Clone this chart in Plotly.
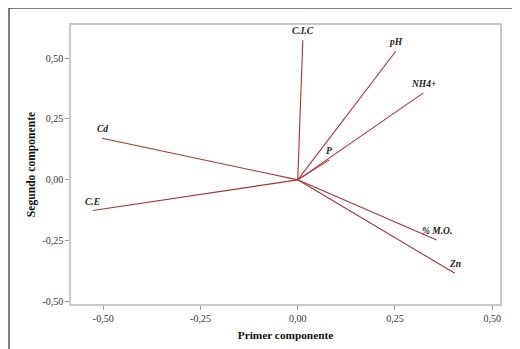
import plotly.graph_objects as go

variables = ["C.I.C", "pH", "NH4+", "P", "Cd", "C.E", "% M.O.", "Zn"]
pc1 = [0.013, 0.252, 0.323, 0.081, -0.503, -0.527, 0.357, 0.404]
pc2 = [0.573, 0.528, 0.357, 0.082, 0.171, -0.126, -0.247, -0.384]

xticks = [-0.50, -0.25, 0.00, 0.25, 0.50]
xticklabels = ["-0,50", "-0,25", "0,00", "0,25", "0,50"]
yticks = [-0.50, -0.25, 0.00, 0.25, 0.50]
yticklabels = ["-0,50", "-0,25", "0,00", "0,25", "0,50"]

# page body has an 8px default margin: figure is shifted by (8, 8) in the window
OFF = 8
W, H = 520 - OFF, 349 - OFF
ML, MR, MT, MB = 71 - OFF, 20, 25 - OFF, 45
LINE = "#a83434"

fig = go.Figure()
for name, x, y in zip(variables, pc1, pc2):
    fig.add_trace(go.Scatter(
        x=[0, x], y=[0, y], mode="lines",
        line=dict(color=LINE, width=1.1),
        hoverinfo="skip", showlegend=False))
    fig.add_annotation(
        x=x, y=y, text="<b><i>%s</i></b>" % name, showarrow=False,
        yshift=9, xshift=0,
        font=dict(family="Liberation Serif", size=9.5, color="#222"))

def px_x(p):
    return (p - OFF - ML) / (W - ML - MR)

def px_y(p):
    return (H - MB - (p - OFF)) / (H - MT - MB)

fig.add_shape(type="rect", xref="paper", yref="paper",
              x0=px_x(9), x1=px_x(560), y0=px_y(380), y1=px_y(8),
              line=dict(color="#555", width=1.5), layer="below")

axis_common = dict(
    showgrid=False, zeroline=False, showline=True, mirror=True,
    automargin=False,
    linecolor="#c8c8c8", linewidth=1.5, ticks="outside", ticklen=4,
    tickcolor="#999", tickwidth=1,
    tickfont=dict(family="Liberation Serif", size=10, color="#333"),
)

fig.update_layout(
    width=W, height=H, margin=dict(l=ML, r=MR, t=MT, b=MB, autoexpand=False),
    paper_bgcolor="white", plot_bgcolor="white", separators=",.",
    xaxis=dict(range=[-0.583, 0.52], tickvals=xticks, ticktext=xticklabels,
               title=dict(text="<b>Primer componente</b>", standoff=8,
                          font=dict(family="Liberation Serif", size=11.3, color="#111")),
               **axis_common),
    yaxis=dict(range=[-0.51, 0.636], tickvals=yticks, ticktext=yticklabels,
               title=dict(text="<b>Segundo componente</b>", standoff=4,
                          font=dict(family="Liberation Serif", size=11.6, color="#111")),
               **axis_common),
)

fig.write_html("out.html")
